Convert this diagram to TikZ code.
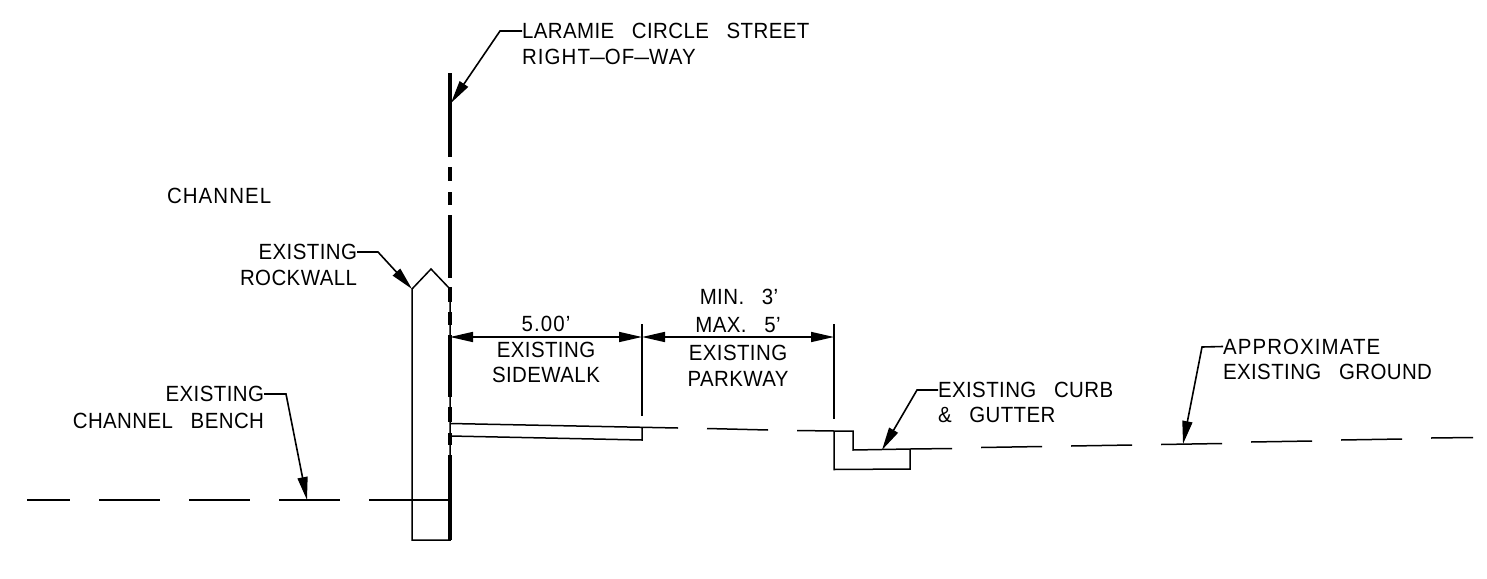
\documentclass[tikz,border=0pt]{standalone}
\usepackage{fontspec}
\setmainfont[LetterSpace=2,WordSpace=2.9]{Liberation Sans}
\newfontfamily\widecad[Ligatures=TeX,LetterSpace=5.4,WordSpace=2.9]{Liberation Sans}
\newcommand{\caddash}{\scalebox{1.3}[1]{--}}
\usetikzlibrary{arrows.meta}
\tikzset{
  thinline/.style={line width=1.5pt,black,line join=miter},
  rowline/.style={line width=3.6pt,black},
  leader/.style={line width=1.6pt,black,-{Triangle[length=23pt,width=10pt]}},
  dimline/.style={line width=1.6pt,black,{Triangle[length=23pt,width=10pt]}-{Triangle[length=23pt,width=10pt]}},
  cad/.style={inner sep=0pt,outer sep=0pt,font=\fontsize{22}{27}\selectfont,xscale=0.93,align=left},
  cadw/.style={cad,font=\widecad\fontsize{22}{27}\selectfont},
  cadc/.style={cad,align=center}
}
\begin{document}
\begin{tikzpicture}[x=1pt,y=-1pt]
\useasboundingbox (0,0) rectangle (1487,578);
% rockwall
\draw[thinline] (412,540) -- (412,289) -- (431,269) -- (450,289) -- (450,540) -- cycle;
% right of way
\coordinate (r0) at (450,73);\coordinate (r1) at (450,157);
\coordinate (r2) at (450,167);\coordinate (r3) at (450,181);
\coordinate (r4) at (450,192);\coordinate (r5) at (450,205);
\coordinate (r6) at (450,215);\coordinate (r7) at (450,278);
\coordinate (r8) at (450,287);\coordinate (r9) at (450,302);
\coordinate (r10) at (450,312);\coordinate (r11) at (450,325);
\coordinate (r12) at (450,335);\coordinate (r13) at (450,397);
\coordinate (r14) at (450,407);\coordinate (r15) at (450,422);
\coordinate (r16) at (450,433);\coordinate (r17) at (450,445);
\coordinate (r18) at (450,455);\coordinate (r19) at (450,540);
\draw[rowline] (r0)--(r1) (r2)--(r3) (r4)--(r5) (r6)--(r7) (r8)--(r9) (r10)--(r11) (r12)--(r13) (r14)--(r15) (r16)--(r17) (r18)--(r19);
% ground left
\draw[thinline] (27,500)--(70,500) (99,500)--(160,500) (189,500)--(250,500) (279,500)--(340,500) (369,500)--(450,500);
% sidewalk
\draw[thinline] (450,423.5)--(678,428) (450,436)--(642,440)--(642,428);
\draw[thinline] (707,428.5)--(768,430) (797,430.5)--(834,431)--(853,431)--(853,450)--(910,449)--(952,448.5);
\draw[thinline] (834,431)--(834,469.5)--(910,469)--(910,449);
\draw[thinline] (981,447.5)--(1042,446.5) (1071,446)--(1132,445) (1161,444.5)--(1222,443.5) (1251,442)--(1312,441) (1341,440)--(1402,439) (1431,438)--(1473,437.5);
% extension lines
\draw[thinline] (642,324)--(642,416) (834,324)--(834,419);
% dims
\coordinate (d0) at (450,337);\coordinate (d1) at (642,337);\coordinate (d2) at (834,337);
\draw[dimline] (d0)--(d1);
\draw[dimline] (d1)--(d2);
% labels
\node[cad,anchor=west] (lar) at (522,31) {LARAMIE CIRCLE STREET};
\node[cadw,anchor=west] (row) at (522,57) {RIGHT\caddash OF\caddash WAY};
\node[cadw,anchor=west] (chan) at (167,196) {CHANNEL};
\node[cad,anchor=east] (rock1) at (357,252) {EXISTING};
\node[cad,anchor=east] (rock2) at (357,278) {ROCKWALL};
\node[cadw,align=center] (five) at (546,323.5) {5.00'};
\node[cadc] (sw1) at (546,350) {EXISTING};
\node[cadc] (sw2) at (546,375) {SIDEWALK};
\node[cadc] (min) at (739,297) {MIN. 3'};
\node[cadc] (max) at (738,325) {MAX. 5'};
\node[cadc] (pk1) at (738,353) {EXISTING};
\node[cadc] (pk2) at (738,379) {PARKWAY};
\node[cad,anchor=east] (ben1) at (264,394) {EXISTING};
\node[cad,anchor=east] (ben2) at (264,420.5) {CHANNEL BENCH};
\node[cad,anchor=west] (cur1) at (938,390) {EXISTING CURB};
\node[cad,anchor=west] (cur2) at (938,415) {\&\ GUTTER};
\node[cadw,anchor=west] (app1) at (1223,346.5) {APPROXIMATE};
\node[cad,anchor=west] (app2) at (1223,372) {EXISTING GROUND};
% leaders
\coordinate (a1) at (451,103);\coordinate (a1k) at (500,31);
\coordinate (a2) at (412,289);\coordinate (a2k) at (378,252);
\coordinate (a3) at (307,500);\coordinate (a3k) at (286,394);
\coordinate (a4) at (882,450);\coordinate (a4k) at (917,390);
\coordinate (a5) at (1183,444);\coordinate (a5k) at (1202,347);
\draw[leader] (lar.west) -- (a1k) -- (a1);
\draw[leader] (rock1.east) -- (a2k) -- (a2);
\draw[leader] (ben1.east) -- (a3k) -- (a3);
\draw[leader] (cur1.west) -- (a4k) -- (a4);
\draw[leader] (app1.west) -- (a5k) -- (a5);
\end{tikzpicture}
\end{document}
